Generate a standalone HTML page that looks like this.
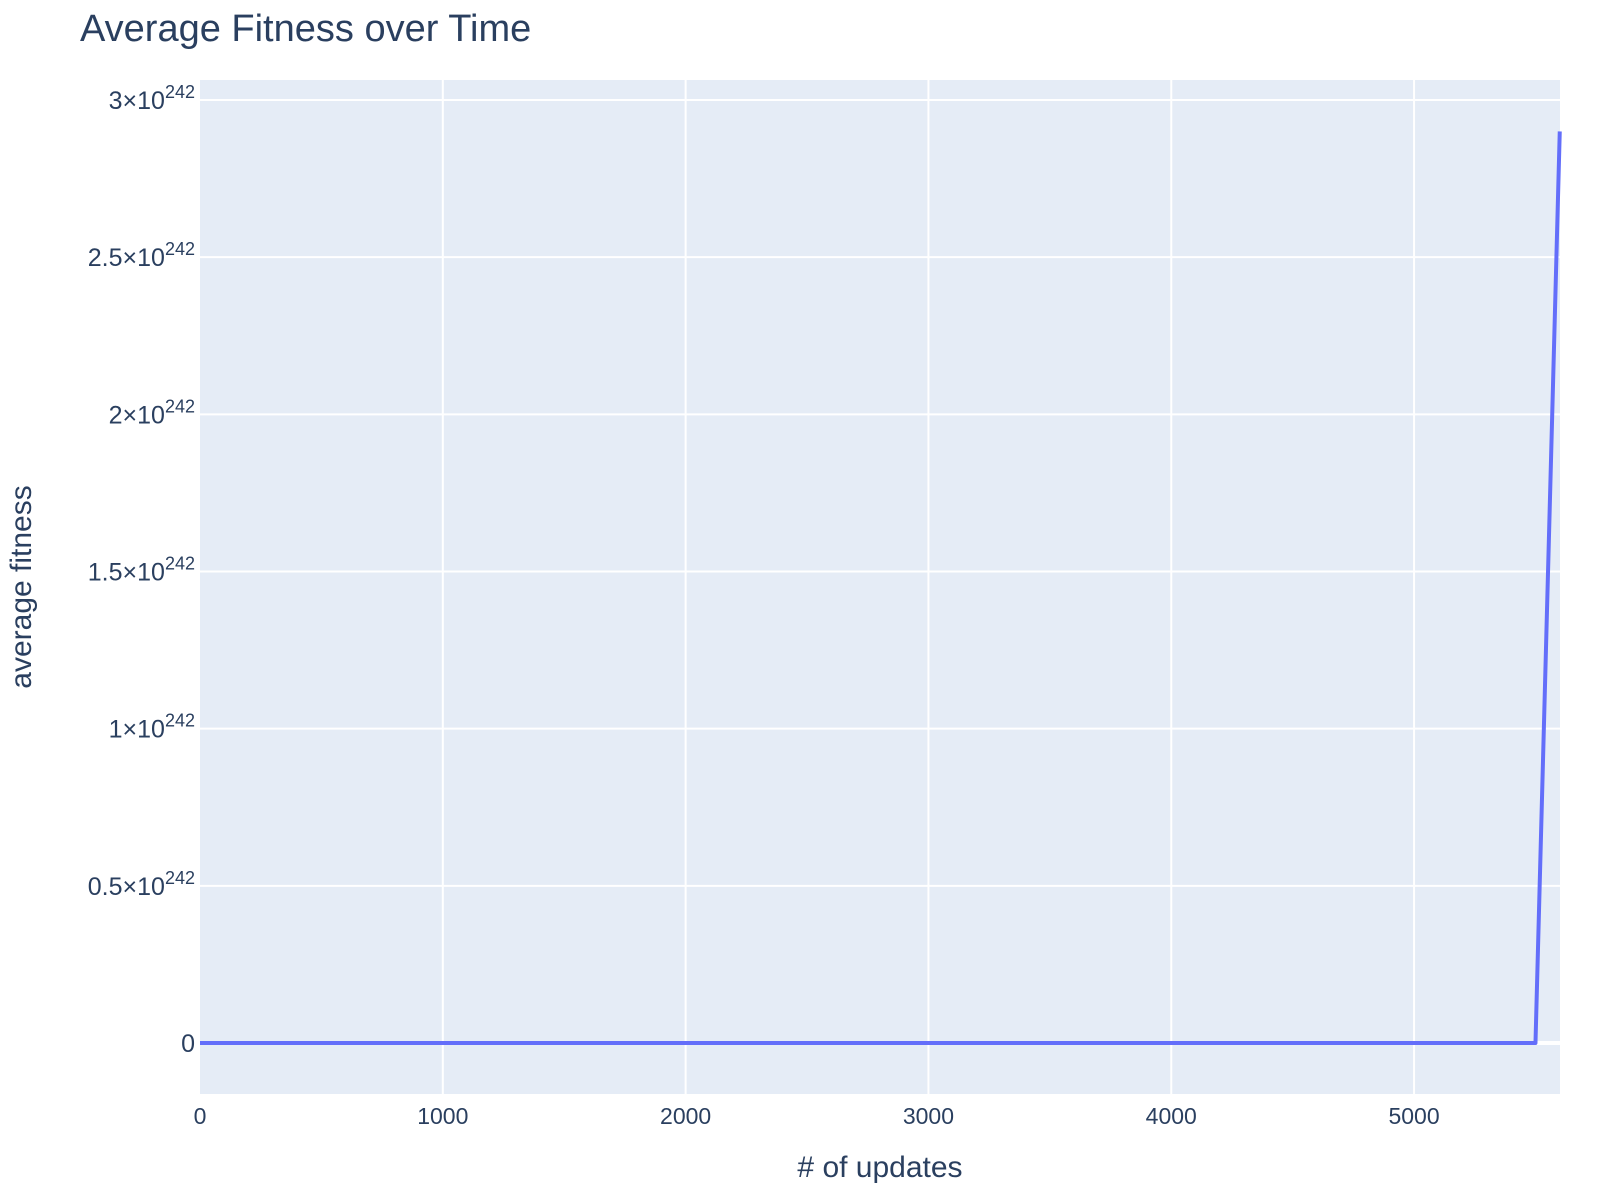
<!DOCTYPE html>
<html><head><meta charset="utf-8"><style>
body{margin:0;background:#fff;}
svg{display:block;font-family:"Liberation Sans",Arial,sans-serif;}
</style></head><body>
<svg id="chart" width="1600" height="1200">
<rect x="200" y="80" width="1360" height="1014" fill="#e5ecf6"/>
<g id="grid"></g><g id="ticks"></g><g id="series"></g>
<text x="80" y="41" font-size="38" fill="#2a3f5f">Average Fitness over Time</text>
<text x="880" y="1177" font-size="30" fill="#2a3f5f" text-anchor="middle"># of updates</text>
<text transform="translate(31,587) rotate(-90)" font-size="30" fill="#2a3f5f" text-anchor="middle">average fitness</text>
</svg>
<script>
const xValues=[0,1000,2000,3000,4000,5000,5500,5600];
const yValues=[0,0,0,0,0,0,0,2.9];
const xTicks=[0,1000,2000,3000,4000,5000];
const yTicks=[0,0.5,1,1.5,2,2.5,3];
const yTickMant=["0","0.5","1","1.5","2","2.5","3"];
const NS="http://www.w3.org/2000/svg";
function sx(v){return 200+(v-0)*(1360/5601);}
function sy(v){return 1043-v*(943/3);}
function mk(t,a,p){const e=document.createElementNS(NS,t);for(const k in a)e.setAttribute(k,a[k]);p.appendChild(e);return e;}
const grid=document.getElementById('grid'),ticks=document.getElementById('ticks'),ser=document.getElementById('series');
xTicks.forEach(v=>{
 if(v>0){const l=mk('line',{x1:sx(v),x2:sx(v),y1:80,y2:1094,stroke:'#fff','stroke-width':2},grid);
 
 }
 const t=mk('text',{x:sx(v),y:1124,'font-size':23,fill:'#2a3f5f','text-anchor':'middle'},ticks);t.textContent=v;
 
 
});
yTicks.forEach((v,i)=>{
 const l=mk('line',{x1:200,x2:1560,y1:sy(v),y2:sy(v),stroke:'#fff','stroke-width':v===0?4:2},grid);
 
 
 const t=mk('text',{x:195,y:sy(v)+9,'font-size':25,fill:'#2a3f5f','text-anchor':'end'},ticks);
 
 
 if(v===0){t.textContent='0';}
 else{t.textContent=yTickMant[i]+'×10';const s=mk('tspan',{'font-size':18,dy:-11},t);s.textContent='242';}
});
const d=xValues.map((x,i)=>(i?'L':'M')+sx(x)+','+sy(yValues[i])).join(' ');
const p=mk('path',{d:d,fill:'none',stroke:'#636efa','stroke-width':4,'stroke-linejoin':'round'},ser);


</script>
</body></html>
